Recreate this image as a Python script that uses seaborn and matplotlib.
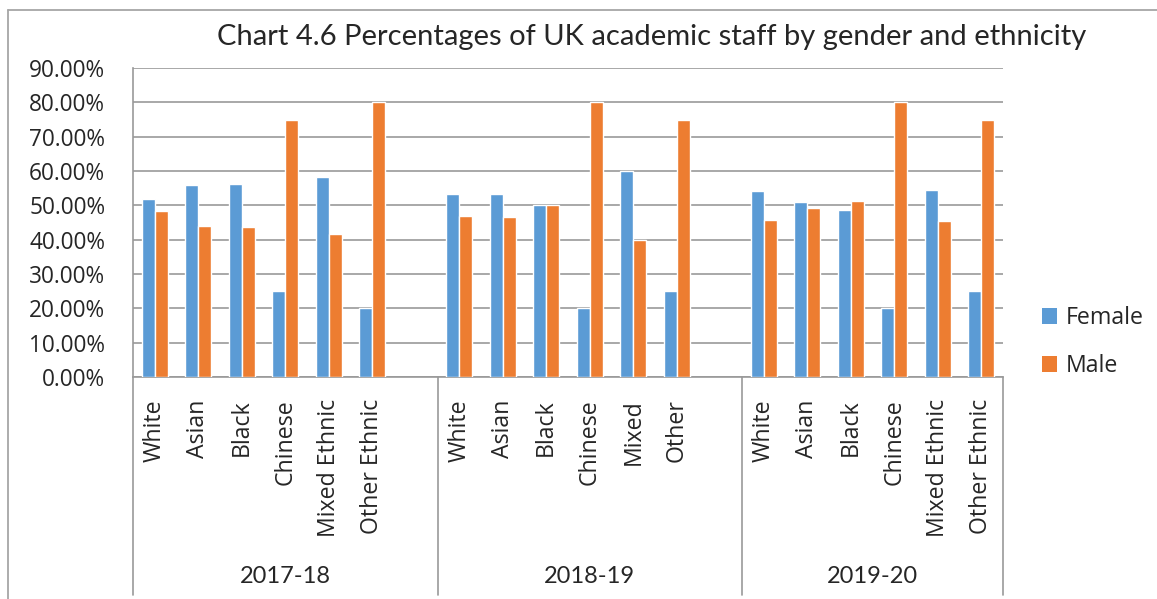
import matplotlib
matplotlib.use("Agg")
import matplotlib.pyplot as plt
import matplotlib.ticker as mticker
from matplotlib.patches import Patch
from matplotlib.lines import Line2D
import pandas as pd
import seaborn as sns

# ---------------- data ----------------
years = ["2017-18", "2018-19", "2019-20"]
labels_1718 = ["White", "Asian", "Black", "Chinese", "Mixed Ethnic", "Other Ethnic"]
labels_1819 = ["White", "Asian", "Black", "Chinese", "Mixed", "Other"]
labels_1920 = ["White", "Asian", "Black", "Chinese", "Mixed Ethnic", "Other Ethnic"]
female_1718 = [51.7, 55.9, 56.2, 25.0, 58.3, 20.0]
male_1718 = [48.3, 44.1, 43.8, 75.0, 41.7, 80.0]
female_1819 = [53.2, 53.4, 50.0, 20.0, 60.0, 25.0]
male_1819 = [46.8, 46.6, 50.0, 80.0, 40.0, 75.0]
female_1920 = [54.3, 50.9, 48.6, 20.0, 54.6, 25.0]
male_1920 = [45.7, 49.1, 51.4, 80.0, 45.4, 75.0]
genders = ["Female", "Male"]
colors = {"Female": "#5B9BD5", "Male": "#ED7D31"}

year_blocks = [
    (years[0], labels_1718, female_1718, male_1718, True),
    (years[1], labels_1819, female_1819, male_1819, True),
    (years[2], labels_1920, female_1920, male_1920, False),
]

rows = []
order = []
tick_labels = []
group_spans = []
for yr, labs, fem, mal, gap in year_blocks:
    start = len(order)
    for lab, f, m in zip(labs, fem, mal):
        key = f"{yr}|{lab}"
        order.append(key)
        tick_labels.append(lab)
        rows.append({"slot": key, "gender": "Female", "value": f})
        rows.append({"slot": key, "gender": "Male", "value": m})
    if gap:
        order.append(f"{yr}|gap")
        tick_labels.append("")
    group_spans.append((yr, start, len(order)))
df = pd.DataFrame(rows)

# ---------------- style ----------------
sns.set_style("white")
plt.rcParams["font.family"] = ["Open Sans", "DejaVu Sans"]
title_font = ["Lato", "DejaVu Sans"]

W, H = 1157, 599
fig = plt.figure(figsize=(W / 100, H / 100), dpi=100)
ax = fig.add_axes([133 / W, 1 - 377 / H, 870 / W, 309 / H])

sns.barplot(data=df, x="slot", y="value", hue="gender", order=order,
            hue_order=genders, palette=colors, width=0.6, saturation=1,
            errorbar=None, legend=False, ax=ax, zorder=3)

grid_c = "#999999"
ax.set_xlim(-0.5, len(order) - 0.5)
ax.set_ylim(0, 90)
ax.yaxis.set_major_locator(mticker.MultipleLocator(10))
ax.yaxis.set_major_formatter(mticker.PercentFormatter(100, decimals=2))
ax.yaxis.grid(True, color=grid_c, linewidth=1.2, zorder=0)
ax.set_axisbelow(True)
for s in ["top", "right"]:
    ax.spines[s].set_visible(False)
for s in ["left", "bottom"]:
    ax.spines[s].set_color(grid_c)
    ax.spines[s].set_linewidth(1.2)
ax.set_xlabel("")
ax.set_ylabel("")
ax.set_xticks(range(len(order)))
ax.set_xticklabels(tick_labels, rotation=90, ha="center", va="top")
ax.tick_params(axis="x", length=0, pad=16, labelsize=16.7)
ax.tick_params(axis="y", length=0, pad=20, labelsize=16.3)

# separators of the multi-level category axis
trans = ax.get_xaxis_transform()
sep_pos = [-0.5] + [end - 0.5 for _, _, end in group_spans]
for xp in sep_pos:
    ax.add_line(Line2D([xp, xp], [0, -0.705], transform=trans, color=grid_c,
                       linewidth=1.2, clip_on=False))
for yr, start, end in group_spans:
    ax.text((start + end - 1) / 2, -0.646, yr, transform=trans, ha="center",
            va="center", fontsize=17, family=title_font)

# title
fig.text(652 / W, 1 - 37 / H, "Chart 4.6 Percentages of UK academic staff by gender and ethnicity",
         ha="center", va="center", fontsize=21, family=title_font)

# legend
handles = [Patch(facecolor=colors[g], edgecolor="none", label=g) for g in genders]
fig.legend(handles=handles, loc="center left", bbox_to_anchor=(1042 / W, 1 - 342 / H),
           frameon=False, fontsize=16.7, handlelength=0.66, handleheight=0.66,
           handletextpad=0.35, labelspacing=1.04, borderpad=0, borderaxespad=0)

# chart-area border
border_c = "#A6A6A6"
fig.add_artist(Line2D([8 / W, 8 / W], [0, 1 - 10 / H], transform=fig.transFigure,
                      color=border_c, linewidth=1.3))
fig.add_artist(Line2D([8 / W, 1], [1 - 10 / H, 1 - 10 / H], transform=fig.transFigure,
                      color=border_c, linewidth=1.3))

fig.savefig("out.png", dpi=100)
